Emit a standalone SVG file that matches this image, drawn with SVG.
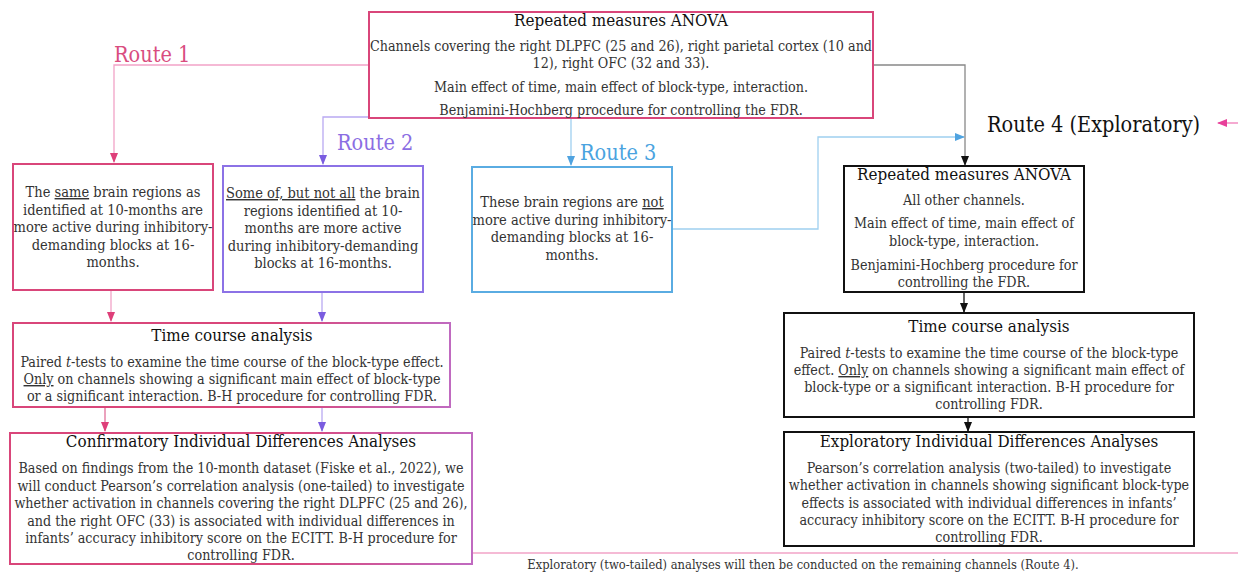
<svg xmlns="http://www.w3.org/2000/svg" width="1238" height="575" viewBox="0 0 1238 575">
<defs>
<style>
.t{font-family:"DejaVu Serif Condensed","DejaVu Serif",serif;font-stretch:condensed;fill:#333;font-size:14.2px;text-anchor:middle}
.b{font-family:"DejaVu Serif Condensed","DejaVu Serif",serif;font-stretch:condensed;fill:#333;font-size:14.5px;text-anchor:middle}
.h{font-family:"DejaVu Serif Condensed","DejaVu Serif",serif;font-stretch:condensed;fill:#111;font-size:16.9px;text-anchor:middle}
.r{font-family:"DejaVu Serif Condensed","DejaVu Serif",serif;font-stretch:condensed;font-size:21.5px}
.u{text-decoration:underline}
.box{fill:#fff;stroke-width:2}
.ln{fill:none;stroke-width:1.3}
</style>
<linearGradient id="gpp" x1="0" y1="0" x2="1" y2="0">
<stop offset="0" stop-color="#d9467a"/><stop offset="0.6" stop-color="#d9467a"/><stop offset="1" stop-color="#c06ac0"/>
</linearGradient>
<marker id="mPink" markerWidth="10" markerHeight="10" refX="9" refY="5" orient="auto" markerUnits="userSpaceOnUse"><path d="M0,1 L10,5 L0,9 Z" fill="#de3f79"/></marker>
<marker id="mPurple" markerWidth="10" markerHeight="10" refX="9" refY="5" orient="auto" markerUnits="userSpaceOnUse"><path d="M0,1 L10,5 L0,9 Z" fill="#7a5ce0"/></marker>
<marker id="mBlue" markerWidth="10" markerHeight="10" refX="9" refY="5" orient="auto" markerUnits="userSpaceOnUse"><path d="M0,1 L10,5 L0,9 Z" fill="#4fa3e0"/></marker>
<marker id="mBlack" markerWidth="10" markerHeight="10" refX="9" refY="5" orient="auto" markerUnits="userSpaceOnUse"><path d="M0,1 L10,5 L0,9 Z" fill="#111"/></marker>
<marker id="mMag" markerWidth="10" markerHeight="10" refX="9" refY="5" orient="auto" markerUnits="userSpaceOnUse"><path d="M0,1 L10,5 L0,9 Z" fill="#e8409a"/></marker>
</defs>
<rect width="1238" height="575" fill="#fff"/>

<g id="connectors">
<path class="ln" d="M369,65 H114 V162" stroke="#f2a3c7" marker-end="url(#mPink)"/>
<path class="ln" d="M369,117 H323 V164" stroke="#b9a9f2" marker-end="url(#mPurple)"/>
<path class="ln" d="M571,118 V165" stroke="#9fd0f0" marker-end="url(#mBlue)"/>
<path class="ln" d="M672,229 H818 V137 H964" stroke="#9fd0f0" marker-end="url(#mBlue)"/>
<path class="ln" d="M873,65 H965 V165" stroke="#888" marker-end="url(#mBlack)"/>
<path class="ln" d="M1238,123 H1218" stroke="#f07cb8" marker-end="url(#mMag)"/>
<path class="ln" d="M964,292 V312" stroke="#111" marker-end="url(#mBlack)"/>
<path class="ln" d="M968,417 V431" stroke="#111" marker-end="url(#mBlack)"/>
<path class="ln" d="M111,290 V321" stroke="#f2a3c7" marker-end="url(#mPink)"/>
<path class="ln" d="M322,292 V321" stroke="#b9a9f2" marker-end="url(#mPurple)"/>
<path class="ln" d="M105,407 V431" stroke="#e0709a" marker-end="url(#mPink)"/>
<path class="ln" d="M322,407 V431" stroke="#b9a9f2" marker-end="url(#mPurple)"/>
<path class="ln" d="M472,553 H1238" stroke="#f2a3c7"/>
</g>

<g id="route-labels">
<text class="r" x="114" y="62" fill="#d94d7f">Route 1</text>
<text class="r" x="337" y="150" fill="#8b6ee3">Route 2</text>
<text class="r" x="580" y="160" fill="#4aa3e0">Route 3</text>
<text class="r" x="987" y="132" fill="#111">Route 4 (Exploratory)</text>
</g>

<g id="anova-main">
<rect class="box" x="369" y="12" width="504" height="106" stroke="#d9467a"/>
<text class="h" x="621" y="26">Repeated measures ANOVA</text>
<text class="t" x="621" y="51">Channels covering the right DLPFC (25 and 26), right parietal cortex (10 and</text>
<text class="t" x="621" y="68">12), right OFC (32 and 33).</text>
<text class="t" x="621" y="92">Main effect of time, main effect of block-type, interaction.</text>
<text class="t" x="621" y="115">Benjamini-Hochberg procedure for controlling the FDR.</text>
</g>

<g id="route1-box">
<rect class="box" x="13" y="164" width="200" height="126" stroke="#d9467a"/>
<text class="b" x="113" y="197">The <tspan class="u">same</tspan> brain regions as</text>
<text class="b" x="113" y="214.5">identified at 10-months are</text>
<text class="b" x="113" y="232">more active during inhibitory-</text>
<text class="b" x="113" y="249.5">demanding blocks at 16-</text>
<text class="b" x="113" y="267">months.</text>
</g>

<g id="route2-box">
<rect class="box" x="223" y="166" width="200" height="126" stroke="#8c72e6"/>
<text class="b" x="323" y="198"><tspan class="u">Some of, but not all</tspan> the brain</text>
<text class="b" x="323" y="215.5">regions identified at 10-</text>
<text class="b" x="323" y="233">months are more active</text>
<text class="b" x="323" y="250.5">during inhibitory-demanding</text>
<text class="b" x="323" y="268">blocks at 16-months.</text>
</g>

<g id="route3-box">
<rect class="box" x="472" y="167" width="200" height="125" stroke="#5aace2"/>
<text class="b" x="572" y="207">These brain regions are <tspan class="u">not</tspan></text>
<text class="b" x="572" y="224.5">more active during inhibitory-</text>
<text class="b" x="572" y="242">demanding blocks at 16-</text>
<text class="b" x="572" y="259.5">months.</text>
</g>

<g id="route4-anova">
<rect class="box" x="844" y="166" width="240" height="126" stroke="#111"/>
<text class="h" x="964" y="180">Repeated measures ANOVA</text>
<text class="t" x="964" y="205">All other channels.</text>
<text class="t" x="964" y="228">Main effect of time, main effect of</text>
<text class="t" x="964" y="245.5">block-type, interaction.</text>
<text class="t" x="964" y="270">Benjamini-Hochberg procedure for</text>
<text class="t" x="964" y="287">controlling the FDR.</text>
</g>

<g id="timecourse-left">
<rect class="box" x="13" y="323" width="437" height="84" stroke="url(#gpp)"/>
<text class="h" x="232" y="341">Time course analysis</text>
<text class="t" x="232" y="367">Paired <tspan font-style="italic">t</tspan>-tests to examine the time course of the block-type effect.</text>
<text class="t" x="232" y="384"><tspan class="u">Only</tspan> on channels showing a significant main effect of block-type</text>
<text class="t" x="232" y="401">or a significant interaction. B-H procedure for controlling FDR.</text>
</g>

<g id="confirmatory">
<rect class="box" x="10" y="433" width="462" height="131" stroke="url(#gpp)"/>
<text class="h" x="241" y="447">Confirmatory Individual Differences Analyses</text>
<text class="t" x="241" y="473">Based on findings from the 10-month dataset (Fiske et al., 2022), we</text>
<text class="t" x="241" y="490.5">will conduct Pearson’s correlation analysis (one-tailed) to investigate</text>
<text class="t" x="241" y="508">whether activation in channels covering the right DLPFC (25 and 26),</text>
<text class="t" x="241" y="525.5">and the right OFC (33) is associated with individual differences in</text>
<text class="t" x="241" y="543">infants’ accuracy inhibitory score on the ECITT. B-H procedure for</text>
<text class="t" x="241" y="560">controlling FDR.</text>
</g>

<g id="timecourse-right">
<rect class="box" x="784" y="313" width="410" height="104" stroke="#111"/>
<text class="h" x="989" y="332">Time course analysis</text>
<text class="t" x="989" y="358">Paired <tspan font-style="italic">t</tspan>-tests to examine the time course of the block-type</text>
<text class="t" x="989" y="375">effect. <tspan class="u">Only</tspan> on channels showing a significant main effect of</text>
<text class="t" x="989" y="392">block-type or a significant interaction. B-H procedure for</text>
<text class="t" x="989" y="409">controlling FDR.</text>
</g>

<g id="exploratory">
<rect class="box" x="784" y="432" width="410" height="114" stroke="#111"/>
<text class="h" x="989" y="447">Exploratory Individual Differences Analyses</text>
<text class="t" x="989" y="473">Pearson’s correlation analysis (two-tailed) to investigate</text>
<text class="t" x="989" y="490">whether activation in channels showing significant block-type</text>
<text class="t" x="989" y="507.5">effects is associated with individual differences in infants’</text>
<text class="t" x="989" y="525">accuracy inhibitory score on the ECITT. B-H procedure for</text>
<text class="t" x="989" y="542">controlling FDR.</text>
</g>

<g id="footnote">
<text class="t" x="803" y="569" style="font-size:12.8px">Exploratory (two-tailed) analyses will then be conducted on the remaining channels (Route 4).</text>
</g>
</svg>
